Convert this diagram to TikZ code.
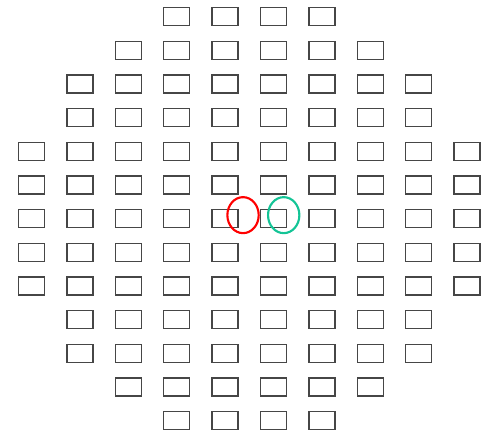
\documentclass[tikz,border=0pt]{standalone}
\usepackage{tikz}
\usetikzlibrary{shapes.geometric}

\definecolor{mint}{RGB}{20,196,150}
\definecolor{seatgray}{RGB}{70,70,70}

\begin{document}
\begin{tikzpicture}[x=0.75pt, y=-0.75pt,
 seat/.style={draw=seatgray, line width=1pt, minimum width=19.5pt, minimum height=13.5pt, inner sep=0pt},
 ring/.style={draw, ellipse, line width=1.6pt, minimum width=23.5pt, minimum height=27pt, inner sep=0pt}]
\useasboundingbox (0,0) rectangle (491,444);
% rows of seats: row/first column/last column
\foreach \r/\a/\b in {0/3/6, 1/2/7, 2/1/8, 3/1/8, 4/0/9, 5/0/9, 6/0/9, 7/0/9, 8/0/9, 9/1/8, 10/1/8, 11/2/7, 12/3/6}
  \foreach \c in {\a,...,\b}
    \node[seat] (s-\r-\c) at (\c*48.4+31.5, \r*33.65+16.7) {};
% the two marked seats
\node[ring, draw=red] (red) at ([xshift=3.2pt, yshift=2.6pt]s-6-4.east) {};
\node[ring, draw=mint] (green) at ([xshift=-2.6pt, yshift=2.6pt]s-6-5.east) {};
\end{tikzpicture}
\end{document}
